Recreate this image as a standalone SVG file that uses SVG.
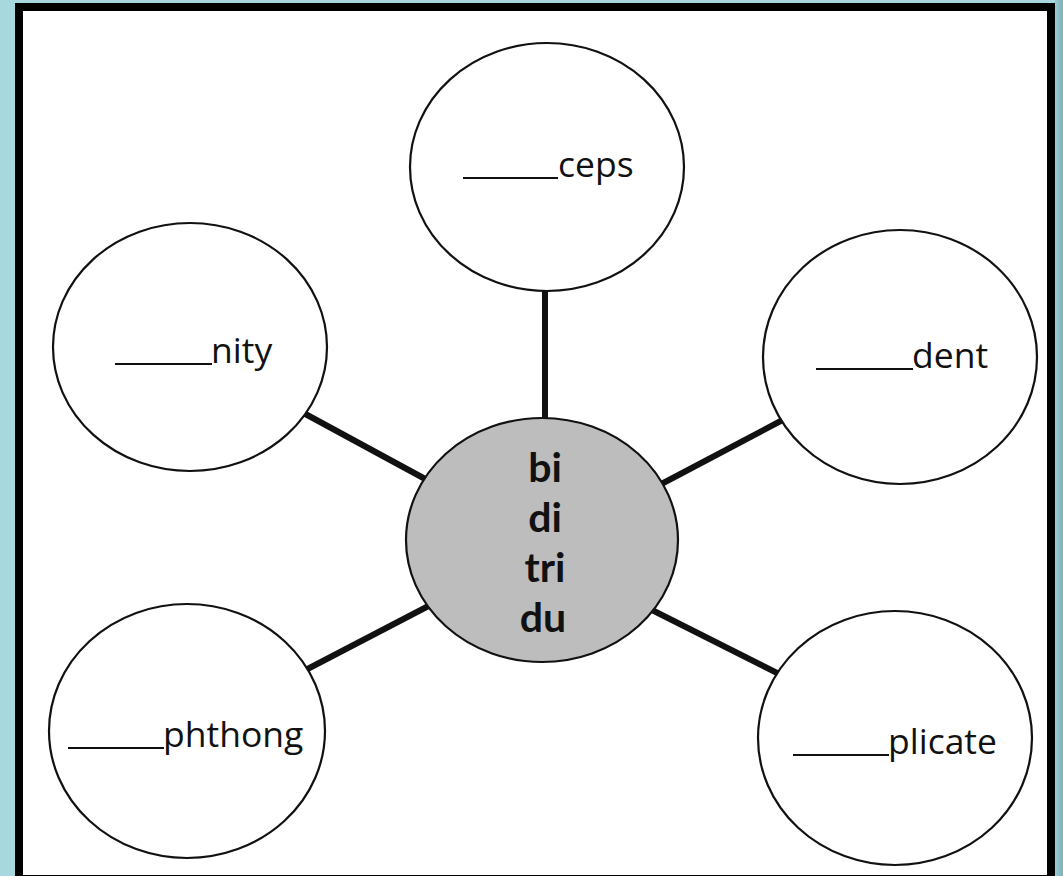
<svg xmlns="http://www.w3.org/2000/svg" width="1063" height="876" viewBox="0 0 1063 876">
  <style>
    .leaf { fill: #ffffff; stroke: #111111; stroke-width: 2.2; }
    .hub { fill: #bdbdbd; stroke: #111111; stroke-width: 2.2; }
    .lbl { font-family: "Open Sans", "Noto Sans", sans-serif; font-size: 35.5px; fill: #111111; }
    .blank { stroke: #111111; stroke-width: 2.2; }
    .hubtxt { font-family: Lato, "Open Sans", sans-serif; font-size: 41px; font-weight: bold; fill: #111111; text-anchor: middle; }
    .conn { stroke: #111111; stroke-width: 6; stroke-linecap: butt; }
  </style>
  <defs>
    <linearGradient id="rightband" x1="0" y1="0" x2="1" y2="0">
      <stop offset="0" stop-color="#9cccd2"/>
      <stop offset="1" stop-color="#7fb0b8"/>
    </linearGradient>
  </defs>
  <rect x="0" y="0" width="1063" height="876" fill="#a7d8de"/>
  <rect x="1055" y="0" width="8" height="876" fill="url(#rightband)"/>
  <rect x="19" y="7" width="1032" height="872" fill="#ffffff" stroke="#000000" stroke-width="8"/>

  <g id="connectors">
    <line class="conn" x1="545" y1="280" x2="545" y2="430"/>
    <line class="conn" x1="298" y1="410" x2="440" y2="487"/>
    <line class="conn" x1="792" y1="415" x2="650" y2="490"/>
    <line class="conn" x1="296" y1="675" x2="440" y2="600"/>
    <line class="conn" x1="787" y1="678" x2="648" y2="608"/>
  </g>

  <g id="node-ceps">
    <ellipse class="leaf" cx="547" cy="167" rx="137" ry="124"/>
    <line class="blank" x1="463" y1="178" x2="558" y2="178"/>
    <text class="lbl" x="558" y="177">ceps</text>
  </g>

  <g id="node-nity">
    <ellipse class="leaf" cx="190" cy="347" rx="137" ry="124"/>
    <line class="blank" x1="115" y1="364" x2="212" y2="364"/>
    <text class="lbl" x="211" y="363">nity</text>
  </g>

  <g id="node-dent">
    <ellipse class="leaf" cx="900" cy="357" rx="137" ry="127"/>
    <line class="blank" x1="816" y1="369" x2="913" y2="369"/>
    <text class="lbl" x="912" y="368">dent</text>
  </g>

  <g id="node-phthong">
    <ellipse class="leaf" cx="187" cy="731" rx="138" ry="127"/>
    <line class="blank" x1="68" y1="748" x2="164" y2="748"/>
    <text class="lbl" x="163" y="747">phthong</text>
  </g>

  <g id="node-plicate">
    <ellipse class="leaf" cx="895" cy="738" rx="137" ry="127"/>
    <line class="blank" x1="793" y1="755" x2="889" y2="755"/>
    <text class="lbl" x="888" y="754">plicate</text>
  </g>

  <g id="node-center">
    <ellipse class="hub" cx="542" cy="540" rx="136" ry="122"/>
    <text class="hubtxt" x="545" y="482">bi</text>
    <text class="hubtxt" x="545" y="532">di</text>
    <text class="hubtxt" x="545" y="582">tri</text>
    <text class="hubtxt" x="543" y="632">du</text>
  </g>
</svg>
